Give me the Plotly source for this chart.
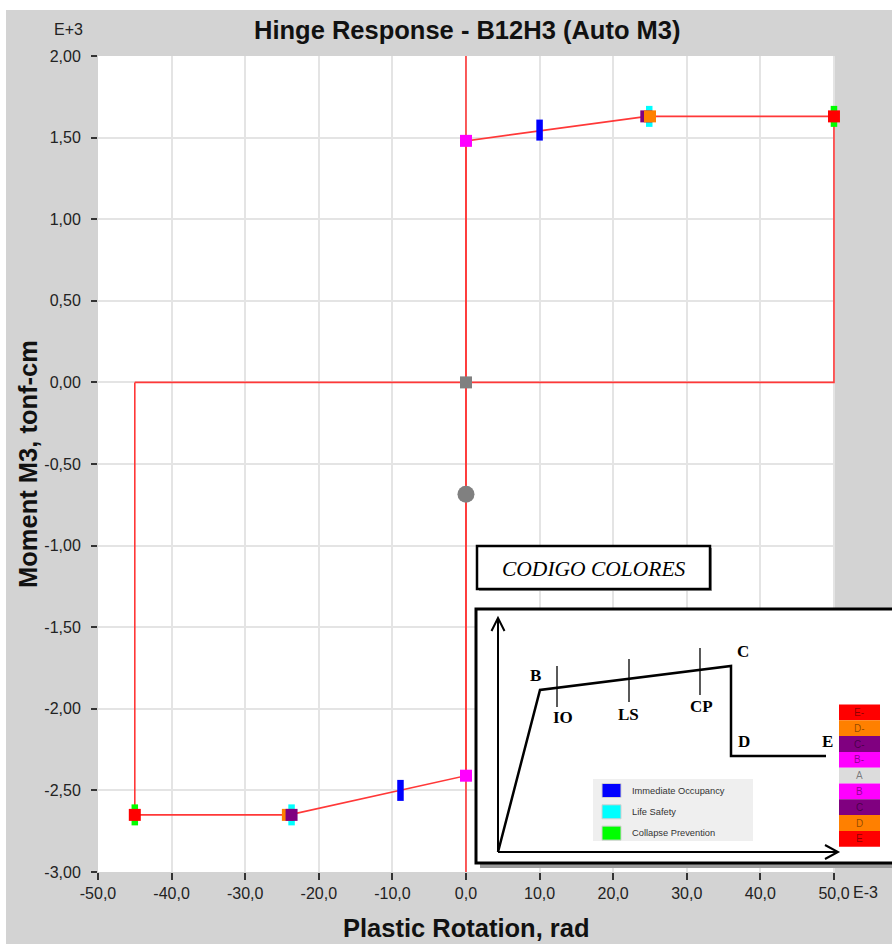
import plotly.graph_objects as go

# ---------------- data ----------------
curve_x = [-45, -45, -24, 0, 0, 0, 24.6, 50, 50, -45]
curve_y = [0, -2650, -2650, -2410, 0, 1480, 1630, 1630, 0, 0]
axis0_x = [0, 0]
axis0_y = [2000, -3000]

state_names = ["E-", "D-", "C-", "B-", "A", "B", "C", "D", "E"]
state_x = [-45, -24.2, -23.7, 0, 0, 0, 24.5, 25, 50]
state_y = [-2650, -2650, -2650, -2410, 0, 1480, 1630, 1630, 1630]
state_colors = ["#ff0000", "#ff8000", "#800080", "#ff00ff", "#808080",
                "#ff00ff", "#800080", "#ff8000", "#ff0000"]
cell_colors = ["#ff0000", "#ff8000", "#800080", "#ff00ff", "#dcdcdc",
               "#ff00ff", "#800080", "#ff8000", "#ff0000"]

io_x, io_y = [10, -8.9], [1546, -2500]
ls_x, ls_y = [24.9, -23.7], [1630, -2650]
cp_x, cp_y = [50, -45], [1630, -2650]
perf_names = ["Immediate Occupancy", "Life Safety", "Collapse Prevention"]
perf_colors = ["#0000ff", "#00ffff", "#00ff00"]

cur_x, cur_y = [0], [-686]

x_ticks = [-50, -40, -30, -20, -10, 0, 10, 20, 30, 40, 50]
x_ticktext = ["-50,0", "-40,0", "-30,0", "-20,0", "-10,0", "0,0",
              "10,0", "20,0", "30,0", "40,0", "50,0"]
y_ticks = [2000, 1500, 1000, 500, 0, -500, -1000, -1500, -2000, -2500, -3000]
y_ticktext = ["2,00", "1,50", "1,00", "0,50", "0,00", "-0,50", "-1,00",
              "-1,50", "-2,00", "-2,50", "-3,00"]

# ---------------- layout helpers ----------------
W, H = 892, 944
ML, MR, MT, MB = 98, 57, 56, 72
PW = W - ML - MR
PH = H - MT - MB


def px(x):
    return (x - ML) / PW


def py(y):
    return (H - MB - y) / PH


RED = "#ff3838"
fig = go.Figure()

fig.add_trace(go.Scatter(x=axis0_x, y=axis0_y, mode="lines", cliponaxis=False,
                         line=dict(color=RED, width=1.6), hoverinfo="skip"))
fig.add_trace(go.Scatter(x=curve_x, y=curve_y, mode="lines", cliponaxis=False,
                         line=dict(color=RED, width=1.6), hoverinfo="skip"))

for xs, ys, c in [(cp_x, cp_y, perf_colors[2]), (ls_x, ls_y, perf_colors[1]),
                  (io_x, io_y, perf_colors[0])]:
    fig.add_trace(go.Scatter(x=xs, y=ys, mode="markers", cliponaxis=False,
                             marker=dict(symbol="line-ns", size=15,
                                         line=dict(color=c, width=6.5))))

fig.add_trace(go.Scatter(x=state_x, y=state_y, mode="markers", text=state_names,
                         cliponaxis=False,
                         marker=dict(symbol="square", size=12, color=state_colors,
                                     line=dict(width=0))))
fig.add_trace(go.Scatter(x=cur_x, y=cur_y, mode="markers", cliponaxis=False,
                         marker=dict(symbol="circle", size=17, color="#808080",
                                     line=dict(width=0))))

shapes = []
annots = []

# white strips at top/left of the window
shapes.append(dict(type="rect", xref="paper", yref="paper", layer="below",
                   x0=px(0), x1=px(W), y0=py(10), y1=py(0),
                   fillcolor="white", line=dict(width=0)))
shapes.append(dict(type="rect", xref="paper", yref="paper", layer="below",
                   x0=px(0), x1=px(6), y0=py(H), y1=py(0),
                   fillcolor="white", line=dict(width=0)))

# CODIGO COLORES box
shapes.append(dict(type="rect", xref="paper", yref="paper", layer="above",
                   x0=px(479), x1=px(712), y0=py(591), y1=py(548),
                   fillcolor="#9a9a9a", line=dict(width=0)))
shapes.append(dict(type="rect", xref="paper", yref="paper", layer="above",
                   x0=px(477), x1=px(710), y0=py(589), y1=py(546),
                   fillcolor="white", line=dict(color="black", width=2.5)))
annots.append(dict(x=px(594), y=py(569), xref="paper", yref="paper",
                   text="<i>CODIGO COLORES</i>", showarrow=False,
                   font=dict(family="Liberation Serif", size=21.5, color="black"),
                   xanchor="center", yanchor="middle"))

# big inset box with shadow
shapes.append(dict(type="rect", xref="paper", yref="paper", layer="above",
                   x0=px(480), x1=px(905), y0=py(868), y1=py(613),
                   fillcolor="#9a9a9a", line=dict(width=0)))
shapes.append(dict(type="rect", xref="paper", yref="paper", layer="above",
                   x0=px(476), x1=px(905), y0=py(863), y1=py(609),
                   fillcolor="white", line=dict(color="black", width=3)))


def path(pts):
    s = "M " + " L ".join(f"{px(a):.5f},{py(b):.5f}" for a, b in pts)
    return s


lines = [
    ([(498, 852), (498, 618)], 2),
    ([(491.5, 631), (498, 618), (504.5, 631)], 2),
    ([(498, 852), (838, 852)], 2),
    ([(825, 845), (838, 852), (825, 859)], 2),
    ([(498, 852), (540, 690), (731, 666), (731, 756), (826, 756)], 2.5),
    ([(557, 666), (557, 707)], 1.3),
    ([(629, 659), (629, 702)], 1.3),
    ([(700, 648), (700, 695)], 1.3),
]
for pts, w in lines:
    shapes.append(dict(type="path", xref="paper", yref="paper", layer="above",
                       path=path(pts), line=dict(color="black", width=w)))

diag_labels = [("B", 535, 675), ("C", 743, 651), ("D", 744, 741), ("E", 827, 741),
               ("IO", 563, 717), ("LS", 628, 714), ("CP", 701, 706)]
for t, x, y in diag_labels:
    annots.append(dict(x=px(x), y=py(y), xref="paper", yref="paper",
                       text=f"<b>{t}</b>", showarrow=False,
                       font=dict(family="Liberation Serif", size=17, color="black"),
                       xanchor="center", yanchor="middle"))

# performance legend panel
shapes.append(dict(type="rect", xref="paper", yref="paper", layer="above",
                   x0=px(593), x1=px(753), y0=py(841), y1=py(779),
                   fillcolor="#efefef", line=dict(width=0)))
for i, (name, c) in enumerate(zip(perf_names, perf_colors)):
    yc = 790.5 + i * 21.3
    shapes.append(dict(type="rect", xref="paper", yref="paper", layer="above",
                       x0=px(602), x1=px(621), y0=py(yc + 7), y1=py(yc - 7),
                       fillcolor=c, line=dict(color="#d0d0d0", width=1)))
    annots.append(dict(x=px(630), y=py(yc), xref="paper", yref="paper",
                       text=name, showarrow=False,
                       font=dict(family="Liberation Sans", size=9.3, color="#333333"),
                       xanchor="left", yanchor="middle"))

# colour stack
top = 704.5
ch = 15.8
stack_labels = ["E-", "D-", "C-", "B-", "A", "B", "C", "D", "E"]
for i, (name, c) in enumerate(zip(stack_labels, cell_colors)):
    y0 = top + i * ch
    shapes.append(dict(type="rect", xref="paper", yref="paper", layer="above",
                       x0=px(839), x1=px(880), y0=py(y0 + ch), y1=py(y0),
                       fillcolor=c, line=dict(width=0)))
    annots.append(dict(x=px(859.5), y=py(y0 + ch / 2), xref="paper", yref="paper",
                       text=name, showarrow=False,
                       font=dict(family="Liberation Sans", size=10,
                                 color="rgba(0,0,0,0.45)"),
                       xanchor="center", yanchor="middle"))

# titles
annots.append(dict(x=px(467), y=py(30), xref="paper", yref="paper",
                   text="<b>Hinge Response - B12H3 (Auto M3)</b>", showarrow=False,
                   font=dict(family="Liberation Sans", size=25.5, color="#111111"),
                   xanchor="center", yanchor="middle"))
annots.append(dict(x=px(466), y=py(928), xref="paper", yref="paper",
                   text="<b>Plastic Rotation, rad</b>", showarrow=False,
                   font=dict(family="Liberation Sans", size=25.5, color="#111111"),
                   xanchor="center", yanchor="middle"))
annots.append(dict(x=px(28), y=py(464), xref="paper", yref="paper",
                   text="<b>Moment M3, tonf-cm</b>", showarrow=False, textangle=-90,
                   font=dict(family="Liberation Sans", size=25.5, color="#111111"),
                   xanchor="center", yanchor="middle"))
annots.append(dict(x=px(68), y=py(30), xref="paper", yref="paper",
                   text="E+3", showarrow=False,
                   font=dict(family="Liberation Sans", size=16, color="#222222"),
                   xanchor="center", yanchor="middle"))
annots.append(dict(x=px(851), y=py(893), xref="paper", yref="paper",
                   text="E-3", showarrow=False,
                   font=dict(family="Liberation Sans", size=16, color="#222222"),
                   xanchor="left", yanchor="middle"))

fig.update_layout(
    width=W, height=H,
    margin=dict(l=ML, r=MR, t=MT, b=MB, pad=0),
    paper_bgcolor="#d3d3d3",
    plot_bgcolor="white",
    showlegend=False,
    shapes=shapes,
    annotations=annots,
    xaxis=dict(range=[-50, 50.14], tickvals=x_ticks, ticktext=x_ticktext,
               showgrid=True, gridcolor="#e4e4e4", gridwidth=2, zeroline=False,
               ticks="outside", ticklen=7, tickwidth=1.5, tickcolor="#333333",
               tickfont=dict(family="Liberation Sans", size=16, color="#222222"),
               showline=False, fixedrange=True),
    yaxis=dict(range=[-3000, 2000], tickvals=y_ticks, ticktext=y_ticktext,
               showgrid=True, gridcolor="#e4e4e4", gridwidth=2, zeroline=False,
               ticks="outside", ticklen=6, tickwidth=1.5, tickcolor="#333333",
               ticklabelstandoff=7,
               tickfont=dict(family="Liberation Sans", size=16, color="#222222"),
               showline=False, fixedrange=True),
)

fig.write_html("out.html")
